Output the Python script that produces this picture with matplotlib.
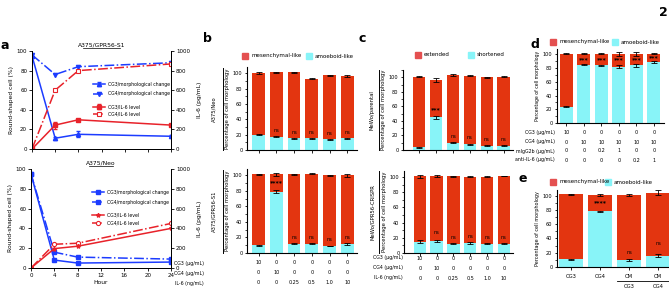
import numpy as np
import matplotlib.pyplot as plt
from matplotlib.lines import Line2D
from matplotlib.ticker import MultipleLocator
from matplotlib.transforms import blended_transform_factory

W, H = 669, 289
RED = '#e33510'
CYAN = '#88f4f8'
LEG_RED = '#e45050'
BLUE = '#1c3cff'
LRED = '#e8222a'
plt.rcParams['font.family'] = ['DejaVu Sans']

# ---- panel a data ----
hours = [0, 4, 8, 24]
s1_cg3_morph = [95, 11, 15, 13]
s1_cg3_morph_err = [0, 1.5, 3, 1]
s1_cg4_morph = [96, 76, 84, 88]
s1_cg3_il6 = [0, 244, 298, 244]
s1_cg3_il6_err = [0, 35, 10, 8]
s1_cg4_il6 = [0, 600, 800, 868]
neo_cg3_morph = [95, 8, 5, 6]
neo_cg4_morph = [95, 16, 11, 9]
neo_cg3_il6 = [0, 196, 220, 400]
neo_cg4_il6 = [0, 240, 250, 450]

# ---- bar panel data ----
b_top_amo = [20, 17, 15, 15, 14, 15]
b_top_tot = [100, 101, 101, 93, 97, 96]
b_top_err = [1, 0.5, 1, 1, 1, 1.5]
b_top_marks = ['', 'ns', 'ns', 'ns', 'ns', 'ns']

b_bot_amo = [10, 79, 12, 12, 9, 12]
b_bot_tot = [101, 101, 101, 102, 100, 100]
b_bot_err = [0.5, 2, 1, 0.5, 0.5, 2]
b_bot_marks = ['', '****', 'ns', 'ns', 'ns', 'ns']

c_top_amo = [4, 45, 10, 8, 6, 6]
c_top_tot = [101, 96, 103, 102, 100, 101]
c_top_err = [0.5, 3, 1, 0.5, 0.5, 0.5]
c_top_marks = ['', '***', 'ns', 'ns', 'ns', 'ns']

c_bot_amo = [15, 16, 12, 13, 12, 12]
c_bot_tot = [101, 101, 101, 100.5, 100.5, 101.5]
c_bot_err = [2, 1.5, 0.5, 1, 0.5, 0.5]
c_bot_marks = ['', 'ns', 'ns', 'ns', 'ns', 'ns']

d_amo = [24, 85, 84, 82, 84, 89]
d_tot = [101, 101, 101, 101, 101, 101]
d_err = [1, 1, 1, 3, 3, 1]
d_marks = ['', '***', '***', '***', '***', '***']

e_amo = [11, 78, 10, 16]
e_tot = [102, 101, 101, 104]
e_err = [1, 1.5, 1.5, 3.5]
e_marks = ['', '****', 'ns', 'ns']
e_labels = ['CG3', 'CG4', 'CM', 'CM']
e_sub = ['', '', 'CG3', 'CG4']

bc_rows = ['CG3 (\u03bcg/mL)', 'CG4 (\u03bcg/mL)', 'IL-6 (ng/mL)']
bc_vals = [['10', '0', '0', '0', '0', '0'],
           ['0', '10', '0', '0', '0', '0'],
           ['0', '0', '0.25', '0.5', '1.0', '10']]
d_rows = ['CG3 (\u03bcg/mL)', 'CG4 (\u03bcg/mL)', 'mIgG2b (\u03bcg/mL)', 'anti-IL-6 (\u03bcg/mL)']
d_vals = [['10', '0', '0', '0', '0', '0'],
          ['0', '10', '10', '10', '10', '10'],
          ['0', '0', '0.2', '1', '0', '0'],
          ['0', '0', '0', '0', '0.2', '1']]


def rect(l, t, r, b):
    return [l / W, (H - b) / H, (r - l) / W, (b - t) / H]


def fx(x):
    return x / W


def fy(y):
    return (H - y) / H


fig = plt.figure(figsize=(W / 100, H / 100), dpi=100)


def line_panel(box, title, data, markers, legy, xlabel):
    ax = fig.add_axes(rect(*box))
    ax2 = ax.twinx()
    (m3, m3e), m4, (i3, i3e), i4 = data
    mk = markers
    h1 = ax.errorbar(hours, m3, yerr=m3e, color=BLUE, lw=1.1, marker=mk[0], ms=3,
                     capsize=1.5, elinewidth=0.7, label='CG3/morphological change')
    h2, = ax.plot(hours, m4, color=BLUE, lw=1.1, ls='-.', marker=mk[1], ms=3,
                  label='CG4/morphological change')
    h3 = ax2.errorbar(hours, i3, yerr=i3e, color=LRED, lw=1.1, marker=mk[2], ms=3,
                      capsize=1.5, elinewidth=0.7, label='CG3/IL-6 level')
    h4, = ax2.plot(hours, i4, color=LRED, lw=1.1, ls='-.', marker=mk[3], ms=3,
                   mfc='white', mew=0.8, label='CG4/IL-6 level')
    ax.set_xlim(0, 24)
    ax.set_ylim(0, 100)
    ax2.set_ylim(0, 1000)
    ax.set_xticks(range(0, 25, 4))
    ax.set_yticks(range(0, 101, 20))
    ax2.set_yticks(range(0, 1001, 200))
    for a in (ax, ax2):
        a.tick_params(labelsize=4, length=2, width=0.6, pad=1.5)
        for s in a.spines.values():
            s.set_linewidth(0.7)
    ax.spines['top'].set_visible(False)
    ax2.spines['top'].set_visible(False)
    ax.set_ylabel('Round-shaped cell (%)', fontsize=4.3, labelpad=2)
    ax2.set_ylabel('IL-6 (pg/mL)', fontsize=4.3, labelpad=5)
    if xlabel:
        ax.set_xlabel('Hour', fontsize=4.3, labelpad=1.5)
    else:
        ax.set_xticklabels([])
    ax.set_title(title, fontsize=4.3, pad=3)
    # underline title
    tw = len(title) * 0.021
    ax.plot([0.5 - tw / 2, 0.5 + tw / 2], [1.035, 1.035], transform=ax.transAxes,
            color='black', lw=0.5, clip_on=False)
    leg1 = ax.legend([h1, h2], [h1.get_label(), h2.get_label()], loc='upper left',
                     bbox_to_anchor=(0.42, legy[0]), frameon=False, fontsize=3.3,
                     handlelength=2.7, labelspacing=1.0, borderpad=0, handletextpad=0.6)
    ax.add_artist(leg1)
    ax.legend([h3, h4], [h3.get_label(), h4.get_label()], loc='upper left',
              bbox_to_anchor=(0.42, legy[1]), frameon=False, fontsize=3.3,
              handlelength=2.7, labelspacing=0.55, borderpad=0, handletextpad=0.6)
    return ax


line_panel((32, 51, 171, 149), 'A375/GPR56-S1',
           [(s1_cg3_morph, s1_cg3_morph_err), s1_cg4_morph,
            (s1_cg3_il6, s1_cg3_il6_err), s1_cg4_il6],
           ['^', 'v', 's', 's'], (0.71, 0.48), False)
line_panel((31, 169, 171, 268), 'A375/Neo',
           [(neo_cg3_morph, None), neo_cg4_morph, (neo_cg3_il6, None), neo_cg4_il6],
           ['s', 's', '*', 'o'], (0.81, 0.58), True)


def bar_panel(box, amo, tot, err, marks, xlim, width, ylim_top=108, mark_y=None,
              ylabel_size=3.8):
    ax = fig.add_axes(rect(*box))
    x = np.arange(len(amo))
    amo = np.array(amo, float)
    tot = np.array(tot, float)
    ax.bar(x, amo, width, color=CYAN, zorder=2)
    ax.bar(x, tot - amo, width, bottom=amo, color=RED, zorder=2)
    ax.errorbar(x, tot, yerr=err, fmt='none', ecolor='black', elinewidth=0.6,
                capsize=2.2, capthick=0.6, zorder=3)
    ax.errorbar(x, amo, yerr=np.array(err) * 0.6 + 0.3, fmt='none', ecolor='black',
                elinewidth=0.6, capsize=2.2, capthick=0.6, zorder=3)
    for i, m in enumerate(marks):
        if not m:
            continue
        y = mark_y[i] if mark_y is not None else amo[i] + 8
        if m == 'ns':
            ax.text(i, y, m, ha='center', va='center', fontsize=3.6, zorder=4)
        else:
            ax.text(i, y, m, ha='center', va='center', fontsize=4.5, fontweight='bold',
                    zorder=4)
    ax.set_xlim(*xlim)
    ax.set_ylim(0, ylim_top)
    ax.set_xticks(x)
    ax.set_xticklabels([])
    ax.set_yticks(range(0, 101, 20))
    ax.yaxis.set_minor_locator(MultipleLocator(10))
    ax.tick_params(labelsize=3.6, length=1.8, width=0.6, pad=1.5)
    ax.tick_params(which='minor', length=1.2, width=0.5)
    for s in ['top', 'right']:
        ax.spines[s].set_visible(False)
    for s in ['left', 'bottom']:
        ax.spines[s].set_linewidth(0.8)
    ax.set_ylabel('Percentage of cell morphology', fontsize=ylabel_size, labelpad=2)
    return ax


def row_table(ax, rows, vals, ys, label_x):
    tr = blended_transform_factory(ax.transData, fig.transFigure)
    for r, (name, row) in enumerate(zip(rows, vals)):
        fig.text(fx(label_x), fy(ys[r]), name, ha='right', va='center', fontsize=3.4)
        for i, v in enumerate(row):
            ax.text(i, fy(ys[r]), v, transform=tr, ha='center', va='center', fontsize=3.5)


def side_label(x_text, x_line, t, b, text):
    fig.text(fx(x_text), fy((t + b) / 2), text, rotation=90, ha='center', va='center',
             fontsize=3.8)
    fig.add_artist(Line2D([fx(x_line), fx(x_line)], [fy(t), fy(b)], color='black', lw=0.7))


def bar_legend(x1, x2, y, lab1, lab2):
    for xx, col, lab in [(x1, LEG_RED, lab1), (x2, CYAN, lab2)]:
        fig.add_artist(plt.Rectangle((fx(xx), fy(y + 3)), 6 / W, 6 / H, color=col,
                                     transform=fig.transFigure))
        fig.text(fx(xx + 9), fy(y), lab, ha='left', va='center', fontsize=4)


# panel b
bxl = (-0.65, 5.55)
axb1 = bar_panel((247, 67, 357, 150), b_top_amo, b_top_tot, b_top_err, b_top_marks, bxl, 0.72)
axb2 = bar_panel((247, 169, 357, 253), b_bot_amo, b_bot_tot, b_bot_err, b_bot_marks, bxl, 0.72,
                 mark_y=[0, 90, 20, 20, 17, 20])
side_label(214, 223, 68, 150, 'A375/Neo')
side_label(214, 223, 170, 253, 'A375/GPR56-S1')
row_table(axb2, bc_rows, bc_vals, [263, 273, 283], 204)
bar_legend(242, 306, 56, 'mesenchymal-like', 'amoeboid-like')

# panel c
cxl = (-0.95, 5.55)
axc1 = bar_panel((403, 70, 513, 150), c_top_amo, c_top_tot, c_top_err, c_top_marks, cxl, 0.74,
                 ylim_top=110, mark_y=[0, 55, 19, 17, 15, 15])
axc2 = bar_panel((404, 171, 513, 253), c_bot_amo, c_bot_tot, c_bot_err, c_bot_marks, cxl, 0.74,
                 mark_y=[0, 27, 21, 22, 21, 21])
side_label(372, 379, 70, 150, 'MeWo/parental')
side_label(372, 379, 171, 253, 'MeWo/GPR56-CRISPR')
row_table(axc2, bc_rows, bc_vals, [258, 268, 278], 403)
bar_legend(415, 468, 55, 'extended', 'shortened')

# panel d
axd = bar_panel((557, 49, 664, 123), d_amo, d_tot, d_err, d_marks, (-0.52, 5.57), 0.74,
                mark_y=[0, 93, 93, 92, 93, 95], ylabel_size=3.3)
row_table(axd, d_rows, d_vals, [133, 142, 151, 160], 555)
bar_legend(550, 612, 42, 'mesenchymal-like', 'amoeboid-like')

# panel e
axe = bar_panel((557, 190, 669, 267), e_amo, e_tot, e_err, e_marks, (-0.48, 3.38), 0.8,
                mark_y=[0, 90, 20, 33], ylabel_size=3.5)
tre = blended_transform_factory(axe.transData, fig.transFigure)
for i, (lab, sub) in enumerate(zip(e_labels, e_sub)):
    axe.text(i, fy(277), lab, transform=tre, ha='center', va='center', fontsize=3.8)
    if sub:
        axe.text(i, fy(286), sub, transform=tre, ha='center', va='center', fontsize=3.8)
axe.plot([1.6, 3.4], [fy(281), fy(281)], transform=tre, color='black', lw=0.6, clip_on=False)
bar_legend(550, 605, 182, 'mesenchymal-like', 'amoeboid-like')

# panel letters
for x, y, s in [(5, 45, 'a'), (207, 39, 'b'), (362, 39, 'c'), (535, 44, 'd'), (523, 179, 'e')]:
    fig.text(fx(x), fy(y), s, fontsize=9, fontweight='bold', ha='center', va='center')
fig.text(fx(663), fy(12), '2', fontsize=9, fontweight='bold', ha='center', va='center')

fig.savefig('out.png', dpi=100)
